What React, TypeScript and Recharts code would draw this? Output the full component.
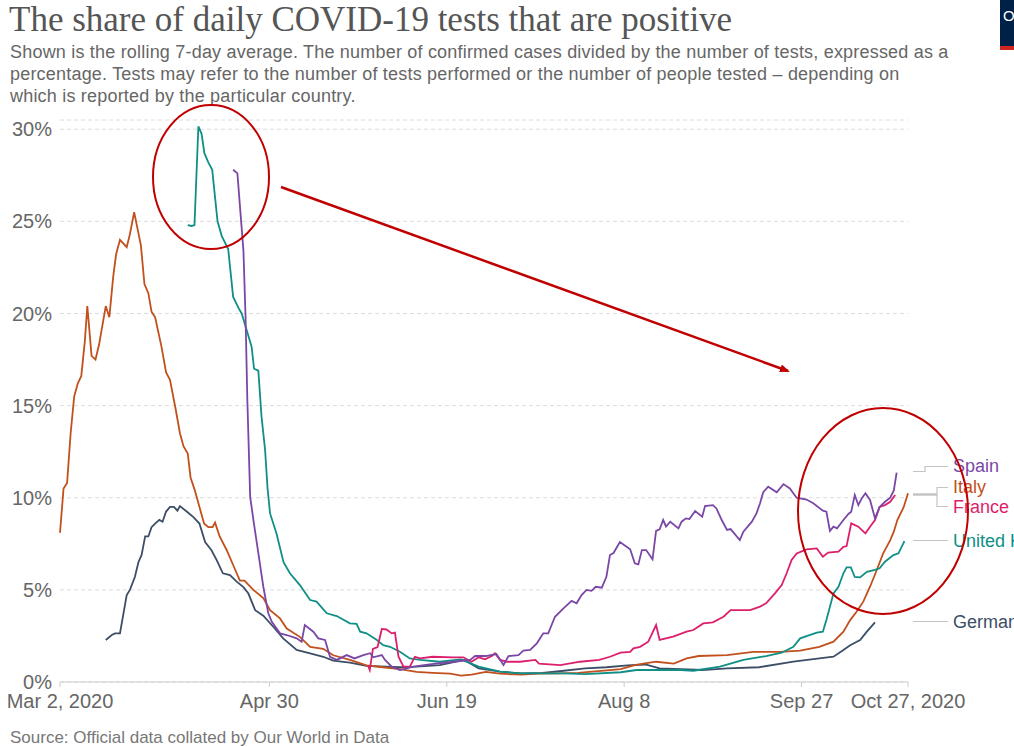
import { LineChart, Line, XAxis, YAxis, CartesianGrid } from 'recharts';

type Pt = [number, number];

// [day since Mar 2 2020, share of tests positive in %]
const ITALY: Pt[] = [
  [0, 8.1], [1, 10.5], [2, 10.8], [3, 13.5], [4, 15.5], [5, 16.2], [6, 16.6], [7, 18.5], [7.7, 20.4],
  [8.9, 17.7], [10, 17.5], [11, 18.3], [12.9, 20.4], [13.9, 19.8], [15, 22], [15.8, 23.2], [16.9, 24],
  [18.8, 23.6], [19.7, 24.3], [20.9, 25.5], [22.8, 23.7], [23.8, 21.6], [24.9, 21.1], [25.8, 20.1],
  [26.8, 19.8], [28.6, 18.2], [29.9, 16.8], [31, 16.4], [32.6, 14.8], [33.8, 13.5], [34.8, 12.8],
  [36, 12.4], [36.8, 11.1], [38, 10.4], [39.3, 9.5], [40.6, 8.6], [41.8, 8.4], [43, 8.4], [43.7, 8.65],
  [45, 7.9], [47, 7.15], [48.8, 6.35], [50.7, 5.5], [52, 5.5], [54.5, 5.0], [57.3, 4.55], [59.2, 3.9],
  [62, 3.45], [63.9, 2.9], [67.6, 2.45], [70.5, 1.9], [74.2, 1.8], [77, 1.45], [81.7, 1.2], [86.4, 0.9],
  [91, 0.8], [95.8, 0.7], [100.5, 0.55], [105, 0.5], [110, 0.45], [113, 0.35], [116, 0.4], [120, 0.55],
  [124, 0.45], [130, 0.4], [135, 0.45], [141, 0.47], [146, 0.5], [150, 0.56], [155, 0.65], [158, 0.7],
  [162, 0.92], [164.4, 1.0], [168, 1.1], [173, 1.0], [176.6, 1.28], [180, 1.41], [188, 1.46],
  [195.4, 1.64], [203, 1.64], [208.6, 1.7], [214, 1.91], [218, 2.19], [220.8, 2.73], [222.7, 3.36],
  [224.5, 3.81], [226.4, 4.36], [228.3, 5.17], [230.2, 6.08], [232, 6.98], [234, 7.7], [235, 8.16],
  [236, 8.79], [237.8, 9.5], [239, 10.24],
];

const GERMANY: Pt[] = [
  [12.9, 2.28], [14.6, 2.55], [15.5, 2.64], [16.9, 2.64], [18.8, 4.72], [19.7, 5.0], [21.1, 5.7],
  [22.1, 6.5], [23, 6.9], [24, 7.9], [24.9, 7.9], [25.8, 8.4], [26.8, 8.6], [28, 8.8], [28.9, 8.7],
  [29.9, 9.25], [31, 9.5], [32.1, 9.5], [33.1, 9.3], [33.8, 9.55], [35.7, 9.25], [37.6, 8.95],
  [39.3, 8.6], [40.9, 7.6], [42.7, 7.15], [44.2, 6.6], [45.9, 5.9], [47.9, 5.8], [49.8, 5.45],
  [51.7, 5.15], [53.1, 4.8], [55, 3.9], [57.3, 3.6], [60.1, 3.0], [62.9, 2.37], [66.7, 1.74],
  [70.5, 1.55], [74.2, 1.37], [77, 1.16], [81.7, 1.05], [86.4, 0.87], [95.8, 0.8], [100.5, 0.83],
  [107, 0.92], [114, 1.2], [118, 0.74], [124, 0.56], [130, 0.47], [136, 0.5], [142, 0.61], [148, 0.74],
  [154, 0.8], [160, 0.9], [165, 0.95], [169, 0.74], [175, 0.7], [181, 0.65], [188, 0.74], [197, 0.8],
  [206.7, 1.1], [214, 1.28], [218, 1.37], [220.8, 1.74], [222.7, 2.0], [225.5, 2.28], [227.4, 2.73],
  [229.7, 3.24],
];

const UK: Pt[] = [
  [36, 24.8], [37.1, 24.75], [37.9, 24.8], [39, 30.15], [39.9, 29.75], [40.7, 28.7], [41.8, 28.2],
  [42.9, 27.8], [43.7, 26.3], [44.4, 25.0], [45.6, 24.2], [47.4, 23.5], [48.8, 20.9], [50.3, 20.3],
  [51.2, 20.0], [52.6, 19.1], [54, 18.2], [54.7, 17.0], [55.9, 16.9], [56.8, 14.4], [57.8, 12.6],
  [58.5, 10.5], [59.2, 9.15], [61, 8.07], [63, 6.5], [64.8, 5.9], [67.6, 5.26], [70.5, 4.45],
  [72.3, 4.36], [75.2, 3.73], [78, 3.58], [81.7, 3.18], [83.6, 3.15], [84.6, 2.73], [86.4, 2.64],
  [89.3, 2.28], [91.1, 2.0], [93, 1.91], [95.8, 1.64], [98.6, 1.28], [101.5, 1.2], [107, 1.1],
  [113, 1.23], [118, 0.83], [124, 0.56], [130, 0.47], [142, 0.47], [148, 0.43], [158, 0.53],
  [162.5, 0.65], [167, 0.65], [175, 0.65], [178.5, 0.61], [186, 0.83], [192.6, 1.2], [199, 1.41],
  [203.4, 1.59], [206.7, 1.91], [208.6, 2.37], [213.3, 2.68], [215, 2.73], [216, 3.36], [218, 4.81],
  [219.4, 5.17], [220.8, 5.9], [221.7, 6.22], [222.9, 6.22], [224, 5.7], [225.5, 5.68], [227.4, 5.98],
  [229.7, 6.08], [231, 6.17], [232.5, 6.53], [234.9, 6.89], [236.3, 6.98], [238, 7.65],
];

const FRANCE: Pt[] = [
  [86.8, 0.9], [87.3, 0.65], [88.2, 1.8], [89.5, 1.9], [90.7, 2.88], [92, 2.85], [93.5, 2.64],
  [94.4, 2.68], [95.4, 1.37], [96.8, 0.83], [98.6, 0.83], [100, 1.37], [101.5, 1.28], [105, 1.37],
  [110.8, 1.34], [113.7, 1.34], [116, 1.1], [118, 1.34], [119.8, 1.23], [121.7, 1.41], [122.6, 1.56],
  [124, 1.2], [126, 1.1], [129.7, 1.1], [134, 1.2], [135, 1.0], [141, 0.92], [146.6, 1.1], [152, 1.2],
  [155, 1.37], [158, 1.59], [160.7, 1.64], [161.6, 1.83], [163.5, 1.91], [165.8, 2.19], [168, 3.09],
  [169, 2.28], [172.8, 2.46], [176.6, 2.73], [178.5, 2.82], [181.3, 3.18], [184, 3.24], [187, 3.54],
  [189, 3.9], [194.5, 3.9], [197.3, 4.09], [199, 4.27], [201.5, 4.81], [203.4, 5.26], [204.8, 5.9],
  [206.2, 6.62], [207.6, 6.98], [210.4, 7.2], [213.3, 7.25], [215, 6.8], [216.5, 7.02], [219.4, 7.07],
  [220.8, 7.34], [221.7, 7.38], [223, 8.61], [225, 8.43], [227, 8.07], [228.3, 8.43], [229.7, 8.79],
  [231, 9.5], [232.5, 9.6], [234, 9.78], [235, 10.05], [235.4, 10.15],
];

const SPAIN: Pt[] = [
  [48.8, 27.8], [50, 27.6], [51.7, 23.4], [52.3, 19.8], [52.8, 15.3], [53.6, 10.05], [54.5, 8.8],
  [55.9, 7.0], [57.3, 5.17], [58.7, 3.73], [59.7, 3.27], [62, 2.64], [63.9, 2.55], [66.7, 2.37],
  [68.1, 2.19], [69, 3.09], [71.4, 2.73], [72.8, 2.37], [74.7, 2.28], [76.1, 1.37], [78, 1.2],
  [80.8, 1.46], [83, 1.28], [85.5, 1.46], [87.4, 1.56], [88.3, 1.34], [90.7, 1.46], [91.6, 1.2],
  [93.5, 0.83], [95.8, 0.65], [99.6, 0.83], [105.2, 0.98], [110.9, 1.1], [115.6, 1.2], [117, 1.41],
  [120, 1.41], [123, 1.52], [125, 0.92], [126.4, 1.41], [129.2, 1.46], [130.6, 1.7], [132.5, 1.74],
  [134.4, 2.1], [136.2, 2.64], [137.6, 2.64], [139.5, 3.54], [141.9, 4.0], [144.2, 4.4], [145.6, 4.27],
  [147, 4.72], [148.4, 5.0], [149.8, 4.95], [151, 5.17], [152.7, 5.12], [154, 5.71], [155, 6.89],
  [156, 7.0], [157.8, 7.6], [160.7, 7.2], [162, 6.44], [163, 6.38], [164, 7.16], [165.2, 7.16],
  [167, 6.66], [168, 8.2], [169, 8.28], [170, 8.79], [170.8, 8.43], [172, 8.7], [174.3, 8.34],
  [175.2, 8.7], [176.4, 8.88], [177.4, 8.84], [179, 9.28], [181, 8.97], [181.8, 9.55], [184, 9.6],
  [185, 9.42], [186.5, 8.79], [188, 8.25], [189, 8.3], [191.6, 7.7], [192.6, 8.16], [195, 8.7],
  [196.3, 9.15], [197.3, 9.7], [198.2, 10.3], [199.6, 10.6], [202, 10.3], [203.9, 10.74], [205.7, 10.5],
  [207.6, 10.0], [210.4, 9.9], [212.3, 9.7], [215, 9.3], [216, 9.24], [217, 8.2], [218, 8.43],
  [219, 8.34], [220.8, 8.79], [222.2, 9.12], [223, 9.24], [224, 10.15], [225, 9.6], [226, 9.97],
  [227, 10.24], [228.3, 9.88], [229.7, 8.88], [231, 9.5], [232.5, 9.78], [234, 10.0], [235, 10.4],
  [235.8, 11.36],
];

const X_TICKS = [0, 59, 109, 159, 209, 239];
const X_TICK_LABELS = ['Mar 2, 2020', 'Apr 30', 'Jun 19', 'Aug 8', 'Sep 27', 'Oct 27, 2020'];
const Y_TICKS = [0, 5, 10, 15, 20, 25, 30];

const SERIES = [
  { name: 'Germany', color: '#3c4e66', points: GERMANY },
  { name: 'Italy', color: '#c2501d', points: ITALY },
  { name: 'United Kingdom', color: '#0f8f86', points: UK },
  { name: 'France', color: '#dc1f6c', points: FRANCE },
  { name: 'Spain', color: '#7a47a6', points: SPAIN },
];

const SANS = '"Liberation Sans", Arial, Helvetica, sans-serif';
const ANNOT = '#c00000';

const toRows = (pts: Pt[]) => pts.map(([day, value]) => ({ day, value }));

// label column on the right, with the little connector lines
function EndLabels() {
  const c = '#c4c4c4';
  return (
    <svg width={1014} height={747} style={{ position: 'absolute', left: 0, top: 0, pointerEvents: 'none' }}>
      <polyline points="913,471.5 925,471.5 925,466.5 948,466.5" fill="none" stroke={c} strokeWidth={1.2} />
      <line x1={913} y1={494.5} x2={937} y2={494.5} stroke={c} strokeWidth={2.5} />
      <polyline points="948,487.5 937,487.5 937,506.5 948,506.5" fill="none" stroke={c} strokeWidth={1.2} />
      <line x1={913} y1={540.5} x2={948} y2={540.5} stroke={c} strokeWidth={1.2} />
      <line x1={913} y1={621.5} x2={948} y2={621.5} stroke={c} strokeWidth={1.2} />
      <g fontFamily={SANS} fontSize={18} dominantBaseline="central">
        <text x={953} y={466} fill="#7a47a6">Spain</text>
        <text x={953} y={487} fill="#c2501d">Italy</text>
        <text x={953} y={507} fill="#dc1f6c">France</text>
        <text x={953} y={541} fill="#0f8f86">United Kingdom</text>
        <text x={953} y={622} fill="#3c4e66">Germany</text>
      </g>

      {/* hand-drawn emphasis: circles + arrow */}
      <defs>
        <marker id="arrowhead" markerWidth="10" markerHeight="8" refX="8" refY="4" orient="auto" markerUnits="userSpaceOnUse">
          <path d="M0,0 L10,4 L0,8 z" fill={ANNOT} />
        </marker>
      </defs>
      <ellipse cx={211} cy={177} rx={58} ry={72} fill="none" stroke={ANNOT} strokeWidth={2} />
      <ellipse cx={883} cy={511} rx={85} ry={103} fill="none" stroke={ANNOT} strokeWidth={2} />
      <line x1={281} y1={187} x2={788} y2={371} stroke={ANNOT} strokeWidth={2.5} markerEnd="url(#arrowhead)" />
    </svg>
  );
}

export default function App() {
  return (
    <div style={{ position: 'fixed', left: 0, top: 0, width: 1014, height: 747, overflow: 'hidden', background: '#fff', fontFamily: SANS }}>
      <div style={{ position: 'absolute', left: 9, top: -2, fontFamily: '"Liberation Serif", "Times New Roman", serif', fontSize: 35, color: '#555', whiteSpace: 'nowrap', lineHeight: '44px' }}>
        The share of daily COVID-19 tests that are positive
      </div>
      <div style={{ position: 'absolute', left: 10, top: 41, fontSize: 18, letterSpacing: 0.2, color: '#666', lineHeight: '22px', whiteSpace: 'pre' }}>
        {'Shown is the rolling 7-day average. The number of confirmed cases divided by the number of tests, expressed as a\npercentage. Tests may refer to the number of tests performed or the number of people tested \u2013 depending on\nwhich is reported by the particular country.'}
      </div>

      {/* Our World in Data logo, cut by the page edge */}
      <div style={{ position: 'absolute', left: 1000, top: 0, width: 110, height: 46, background: '#002147', color: '#fff', fontSize: 15, padding: '7px 0 0 3px', boxSizing: 'border-box', whiteSpace: 'nowrap' }}>
        Our World in Data
      </div>
      <div style={{ position: 'absolute', left: 1000, top: 46, width: 110, height: 4, background: '#ce261e' }} />

      <div style={{ position: 'absolute', left: 0, top: 0 }}>
        <LineChart width={1014} height={747} margin={{ top: 120, right: 106, bottom: 35, left: 8 }}>
          <CartesianGrid vertical={false} stroke="#dcdcdc" strokeDasharray="4 3" />
          <XAxis
            dataKey="day"
            type="number"
            domain={[0, 239]}
            ticks={X_TICKS}
            tickFormatter={(v: number) => X_TICK_LABELS[X_TICKS.indexOf(v)] ?? ''}
            interval={0}
            height={30}
            stroke="#ccc"
            tickSize={5}
            tickMargin={7}
            tick={{ fill: '#666', fontSize: 20, fontFamily: SANS }}
            allowDuplicatedCategory={false}
          />
          <YAxis
            type="number"
            domain={[0, 30.5]}
            ticks={Y_TICKS}
            tickFormatter={(v: number) => `${v}%`}
            width={52}
            axisLine={false}
            tickLine={false}
            tick={{ fill: '#666', fontSize: 20, fontFamily: SANS }}
          />
          {SERIES.map((s) => (
            <Line
              key={s.name}
              data={toRows(s.points)}
              dataKey="value"
              name={s.name}
              stroke={s.color}
              strokeWidth={1.8}
              dot={false}
              activeDot={false}
              isAnimationActive={false}
            />
          ))}
        </LineChart>
      </div>

      <EndLabels />

      <div style={{ position: 'absolute', left: 10, top: 728, fontSize: 17, lineHeight: '19px', color: '#777', whiteSpace: 'nowrap' }}>
        Source: Official data collated by Our World in Data
      </div>
    </div>
  );
}
